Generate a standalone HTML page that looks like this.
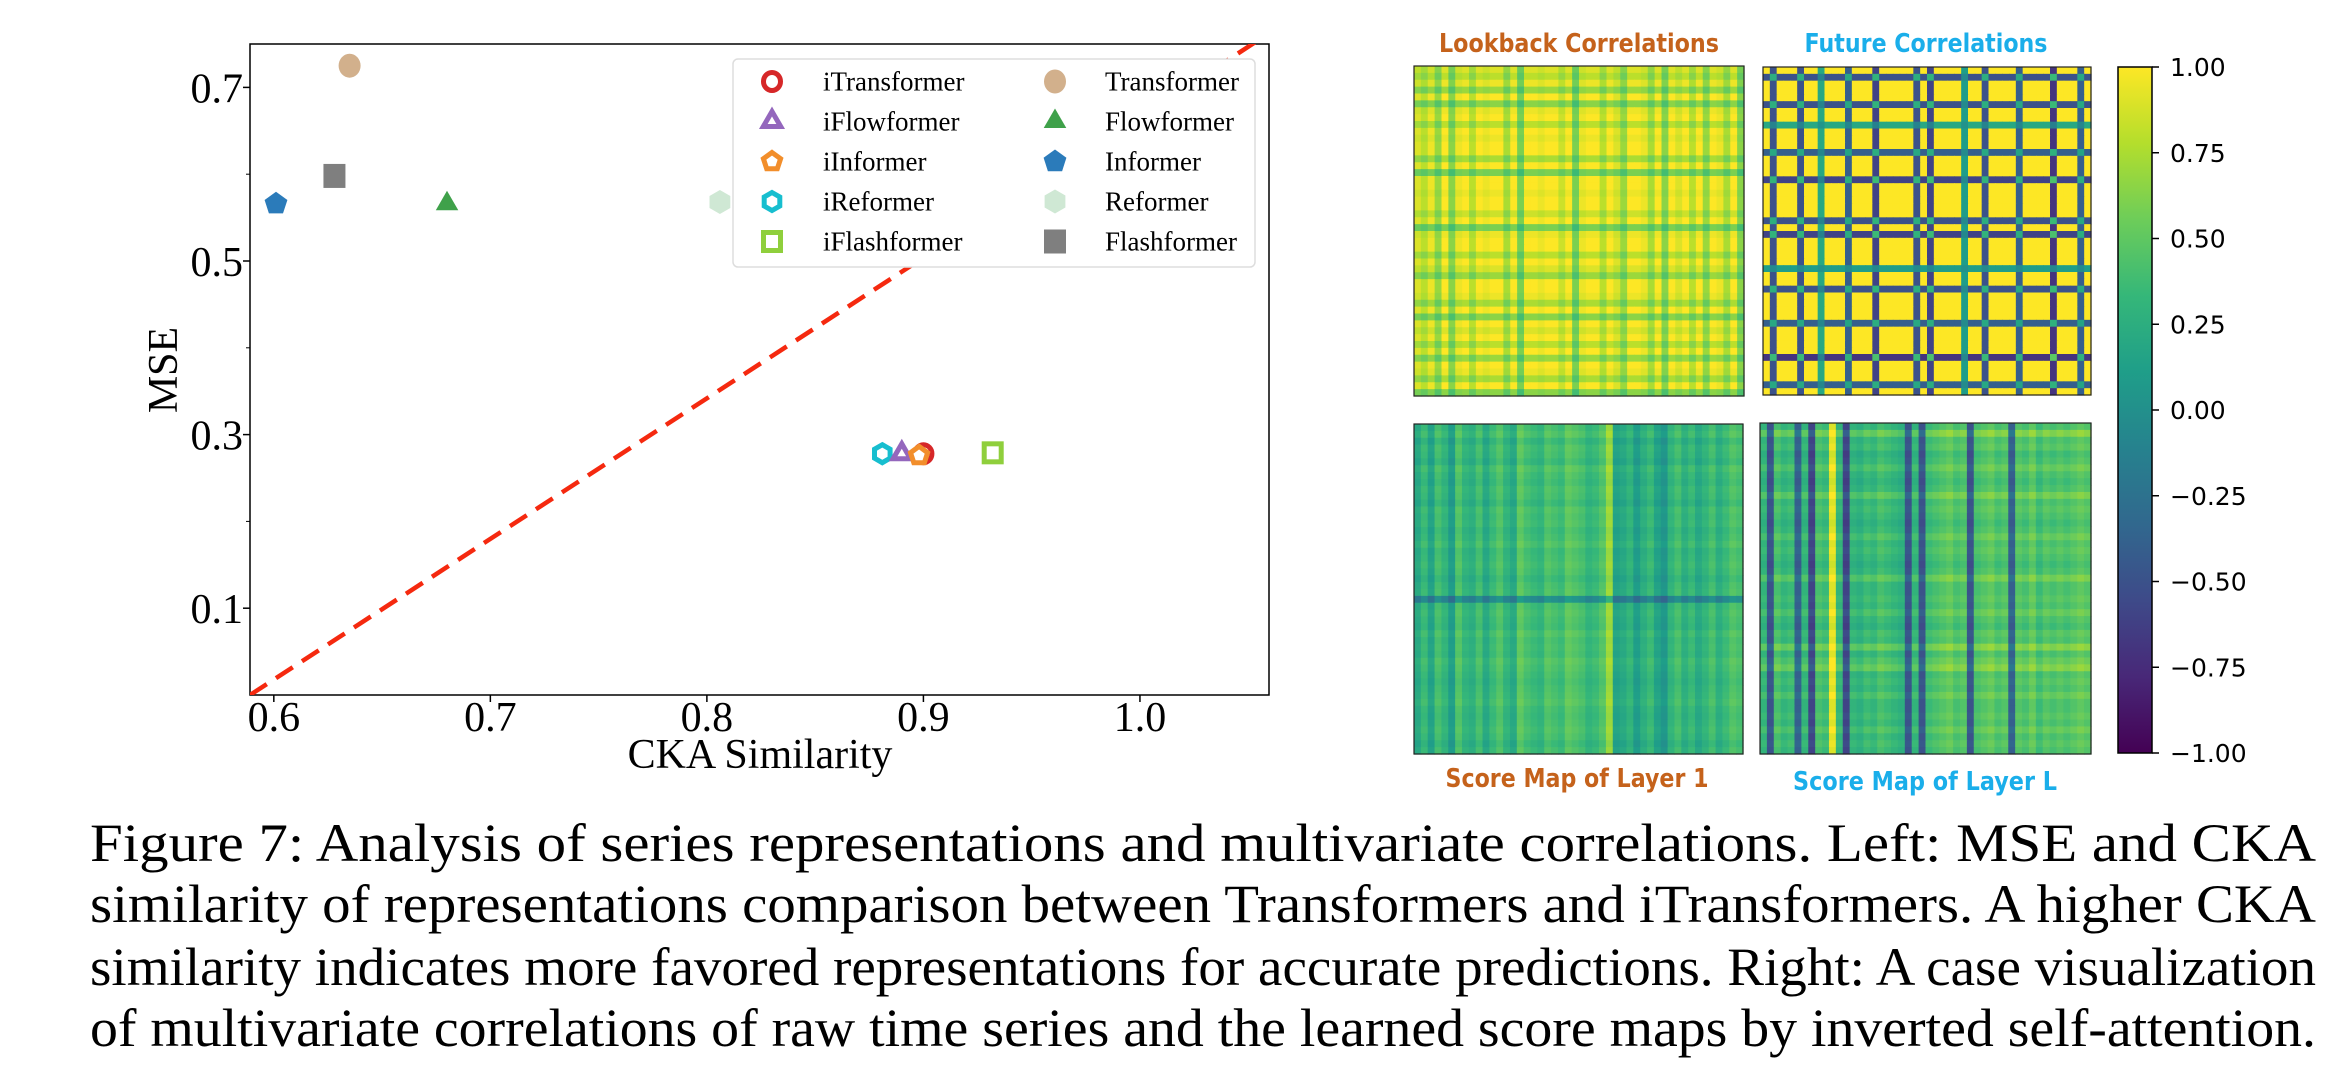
<!DOCTYPE html>
<html><head><meta charset="utf-8"><style>
html,body{margin:0;padding:0;background:#fff;}
svg{display:block;}
</style></head><body>
<svg id="fig" width="2351" height="1088" viewBox="0 0 2351 1088" xmlns="http://www.w3.org/2000/svg">
<g id="scatter"></g>
<g id="heat"></g>
<g id="caption" font-family="Liberation Serif, serif" font-size="54" fill="#000">
<text x="90" y="861" textLength="2226" lengthAdjust="spacingAndGlyphs">Figure 7: Analysis of series representations and multivariate correlations. Left: MSE and CKA</text>
<text x="90" y="922" textLength="2226" lengthAdjust="spacingAndGlyphs">similarity of representations comparison between Transformers and iTransformers. A higher CKA</text>
<text x="90" y="985" textLength="2226" lengthAdjust="spacingAndGlyphs">similarity indicates more favored representations for accurate predictions. Right: A case visualization</text>
<text x="90" y="1046" textLength="2226" lengthAdjust="spacingAndGlyphs">of multivariate correlations of raw time series and the learned score maps by inverted self-attention.</text>
</g>
</svg>
<script>
const NS="http://www.w3.org/2000/svg";
// ---- scatter data ----
const modelNames=["iTransformer","iFlowformer","iInformer","iReformer","iFlashformer","Transformer","Flowformer","Informer","Reformer","Flashformer"];
const ckaValues=[0.900,0.890,0.898,0.881,0.932,0.635,0.680,0.601,0.806,0.628];
const mseValues=[0.278,0.278,0.276,0.278,0.279,0.725,0.566,0.566,0.568,0.598];
const xTicks=[0.6,0.7,0.8,0.9,1.0];
const xTickLabels=["0.6","0.7","0.8","0.9","1.0"];
const yTicks=[0.1,0.3,0.5,0.7];
const yTickLabels=["0.1","0.3","0.5","0.7"];
const yMinorTicks=[0.2,0.4,0.6];
const diagLine=[[0.589,0],[1.06,0.763]];
// ---- heatmap data (per-index weights read approx. from picture) ----
const lookbackWeights=[0.9,0.8,0.95,0.7,1,0.65,0.95,1,0.8,1,0.95,1,1,0.75,1,0.6,1,1,0.95,1,1,0.85,1,0.6,0.95,1,1,0.8,1,0.9,0.7,1,1,0.95,0.75,1,0.65,1,0.9,1,0.8,1,0.7,1,0.95,0.75,1,0.65];
const futureWeights=[1,-0.5,1,1,1,-0.5,1,1,0.2,1,1,1,-0.4,1,1,1,-0.6,1,1,1,1,1,-0.5,1,-0.6,1,1,1,1,0.1,1,1,-0.5,1,1,1,1,-0.4,1,1,1,1,-0.7,1,1,1,-0.4,1];
const layer1Cols=[0.2,0.35,0.15,0.4,0.3,0.1,0.45,0.3,0.25,0.4,0.2,0.35,0.45,0.3,0.2,0.5,0.4,0.35,0.3,0.45,0.4,0.35,0.5,0.45,0.4,0.3,0.35,0.45,0.7,0.15,0.2,0.3,0.1,0.25,0.35,0.15,0.05,0.3,0.4,0.25,0.35,0.2,0.3,0.4,0.25,0.35,0.45,0.4];
const layer1Rows=[0,0.05,-0.05,0.02,0,-0.05,0.05,0,-0.03,0.02,0,-0.05,0.03,0,0.02,-0.03,0,0.05,-0.02,0,0.03,0,-0.05,0,0.02,-0.4,0,0.03,0,-0.02,0.05,0,0.02,0,0.06,0.03,0,-0.03,0,0.02,0.05,0,-0.02,0,0.03,0,-0.05,0];
const layerLCols=[0.3,-0.5,0.4,0.3,0.35,-0.4,0.3,-0.6,0.4,0.35,0.9,0.3,-0.6,0.3,0.25,0.35,0.3,0.4,0.35,0.3,0.25,-0.5,0.3,-0.5,0.35,0.4,0.45,0.5,0.4,0.45,-0.5,0.4,0.45,0.5,0.4,0.45,-0.4,0.45,0.4,0.5,0.35,0.45,0.4,0.45,0.4,0.45,0.5,0.45];
const layerLRows=[0,0.2,0,0.05,-0.05,0,0.1,0,-0.05,0,0.15,0,0.05,0,-0.05,0,0.1,0,0.05,0,-0.05,0,0.15,0,0,0.05,0,0.1,0,-0.05,0.05,0,0.2,0,0.1,0.2,0,0.05,0,0.1,0,0,0.05,0,0.1,0,0.05,0];
const cbarTicks=[1,0.75,0.5,0.25,0,-0.25,-0.5,-0.75,-1];
const cbarLabels=["1.00","0.75","0.50","0.25","0.00","\u22120.25","\u22120.50","\u22120.75","\u22121.00"];

function mk(tag,attrs,parent){const e=document.createElementNS(NS,tag);for(const k in attrs)e.setAttribute(k,attrs[k]);parent.appendChild(e);return e;}

const X0=250,X1=1269,Y0=44,Y1=695,xmin=0.589,xmax=1.0596,ymin=0.0,ymax=0.75;
const sx=v=>X0+(v-xmin)/(xmax-xmin)*(X1-X0);
const sy=v=>Y1-(v-ymin)/(ymax-ymin)*(Y1-Y0);
const sc=document.getElementById('scatter');
const frame=mk('rect',{x:X0,y:Y0,width:X1-X0,height:Y1-Y0,fill:'none',stroke:'#000','stroke-width':1.5},sc);


xTicks.forEach((t,i)=>{
  const l=mk('line',{x1:sx(t),x2:sx(t),y1:Y1,y2:Y1+7,stroke:'#000','stroke-width':1.5},sc);
  
  
  const tx=mk('text',{x:sx(t),y:731,'text-anchor':'middle','font-family':'Liberation Serif, serif','font-size':42},sc);
  tx.textContent=xTickLabels[i];
  
  
});
yTicks.forEach((t,i)=>{
  const l=mk('line',{x1:X0-7,x2:X0,y1:sy(t),y2:sy(t),stroke:'#000','stroke-width':1.5},sc);
  
  
  const tx=mk('text',{x:243,y:sy(t)+15,'text-anchor':'end','font-family':'Liberation Serif, serif','font-size':42},sc);
  tx.textContent=yTickLabels[i];
  
  
});
yMinorTicks.forEach(t=>{
  const l=mk('line',{x1:X0-4,x2:X0,y1:sy(t),y2:sy(t),stroke:'#000','stroke-width':1},sc);
  
  
});
const xl=mk('text',{x:760,y:768,'text-anchor':'middle','font-family':'Liberation Serif, serif','font-size':42},sc);
xl.textContent='CKA Similarity';


const yl=mk('text',{x:0,y:0,'text-anchor':'middle','font-family':'Liberation Serif, serif','font-size':42,transform:'translate(177,370) rotate(-90)'},sc);
yl.textContent='MSE';


const clipD=mk('clipPath',{id:'pc'},sc);mk('rect',{x:X0,y:Y0,width:X1-X0,height:Y1-Y0},clipD);
const dl=mk('line',{x1:sx(diagLine[0][0]),y1:sy(diagLine[0][1]),x2:sx(diagLine[1][0]),y2:sy(diagLine[1][1]),stroke:'#f5290f','stroke-width':4.5,'stroke-dasharray':'20 11','clip-path':'url(#pc)'},sc);



const colors=['#d62728','#9467bd','#f28e2b','#17becf','#8fcf3c','#d2b08c','#3fa14a','#2b7bba','#cfe8d4','#7f7f7f'];
const shapes=['circle','triangle','pentagon','hexagon','square','circle','triangle','pentagon','hexagon','square'];
function marker(shape,cx,cy,col,hollow,parent){
  let e;
  const st=hollow?{fill:'#fff',stroke:col,'stroke-width':5}:{fill:col,stroke:'none'};
  const poly=(n,rot,rr)=>{let p=[];for(let k=0;k<n;k++){const a=rot+k*2*Math.PI/n;p.push((cx+rr*Math.cos(a)).toFixed(1)+','+(cy+rr*Math.sin(a)).toFixed(1));}return p.join(' ');};
  if(shape==='circle') e=mk('ellipse',Object.assign({cx:cx,cy:cy,rx:hollow?8.5:11,ry:hollow?9:12},st),parent);
  else if(shape==='square') e=mk('rect',Object.assign({x:cx-(hollow?8.5:11),y:cy-(hollow?9:12),width:hollow?17:22,height:hollow?18:24},st),parent);
  else if(shape==='triangle') e=mk('polygon',Object.assign({points:poly(3,-Math.PI/2,hollow?10:13)},st),parent);
  else if(shape==='pentagon') e=mk('polygon',Object.assign({points:poly(5,-Math.PI/2,hollow?9:12)},st),parent);
  else e=mk('polygon',Object.assign({points:poly(6,-Math.PI/2,hollow?9:12)},st),parent);
  return e;
}
const order=[5,9,7,6,8,3,1,0,2,4];
order.forEach(i=>{
  const m=marker(shapes[i],sx(ckaValues[i]),sy(mseValues[i]),colors[i],i<5,sc);
  
  
});
const lg=mk('g',{},sc);


mk('rect',{x:733,y:59,width:522,height:208,rx:5,fill:'#fff',stroke:'#ddd','stroke-width':1.5},lg);
modelNames.forEach((n,i)=>{
  const col=i<5?0:1,row=i%5;
  const y=81.5+row*40;
  const g=mk('g',{},lg);
  
  
  marker(shapes[i],col?1055:772,y,colors[i],i<5,g);
  const t=mk('text',{x:col?1105:823,y:y+9,'font-family':'Liberation Serif, serif','font-size':27},g);
  t.textContent=n;
});

const vir=[[68,1,84],[72,40,120],[62,74,137],[49,104,142],[38,130,142],[31,158,137],[53,183,121],[109,205,89],[180,222,44],[253,231,37]];
function viridis(v){let t=(v+1)/2;t=Math.max(0,Math.min(1,t))*(vir.length-1);const i=Math.min(vir.length-2,Math.floor(t)),f=t-i;const a=vir[i],b=vir[i+1];return 'rgb('+a.map((c,k)=>Math.round(c+(b[k]-c)*f)).join(',')+')';}
const hp=document.getElementById('heat');
function heatmap(name,x,y,w,h,valFn,n){
  const g=mk('g',{},hp);
  
  
  const cw=w/n,ch=h/n;
  for(let i=0;i<n;i++)for(let j=0;j<n;j++){
    const r=mk('rect',{x:(x+j*cw).toFixed(2),y:(y+i*ch).toFixed(2),width:(cw+0.6).toFixed(2),height:(ch+0.6).toFixed(2),fill:viridis(valFn(i,j))},g);
    
    
  }
  mk('rect',{x:x,y:y,width:w,height:h,fill:'none',stroke:'#222','stroke-width':1.2},g);
}
heatmap('lookback-correlations-map',1414,66,330,330,(i,j)=>lookbackWeights[i]*lookbackWeights[j],lookbackWeights.length);
heatmap('future-correlations-map',1763,67,328,328,(i,j)=>futureWeights[i]*futureWeights[j],futureWeights.length);
heatmap('score-map-layer-1',1414,424,329,330,(i,j)=>layer1Cols[j]+layer1Rows[i],layer1Cols.length);
heatmap('score-map-layer-l',1760,423,331,331,(i,j)=>layerLCols[j]+layerLRows[i],layerLCols.length);
function title(txt,cx,y,w,col,name){
  const t=mk('text',{x:cx,y:y,'text-anchor':'middle','font-family':'DejaVu Sans, sans-serif','font-weight':'bold','font-size':26,fill:col,textLength:w,lengthAdjust:'spacingAndGlyphs'},hp);
  t.textContent=txt;
  
  
}
title('Lookback Correlations',1579,52,280,'#c5621b','lookback-title');
title('Future Correlations',1926,52,243,'#1aaeea','future-title');
title('Score Map of Layer 1',1577,787,263,'#c5621b','layer-1-title');
title('Score Map of Layer L',1925,790,264,'#1aaeea','layer-l-title');
const CB0=67,CB1=753;
const cy=v=>CB1-(v+1)/2*(CB1-CB0);
const defs=mk('defs',{},hp);
const gr=mk('linearGradient',{id:'vg',x1:0,y1:1,x2:0,y2:0},defs);
vir.forEach((c,k)=>mk('stop',{offset:(k/(vir.length-1)),'stop-color':'rgb('+c.join(',')+')'},gr));
const cb=mk('rect',{x:2118,y:CB0,width:34,height:CB1-CB0,fill:'url(#vg)',stroke:'#000','stroke-width':1.5},hp);


cbarTicks.forEach((t,i)=>{
  mk('line',{x1:2152,x2:2159,y1:cy(t),y2:cy(t),stroke:'#000','stroke-width':1.5},hp);
  const tx=mk('text',{x:2170,y:cy(t)+9,'font-family':'DejaVu Sans, sans-serif','font-size':25},hp);
  tx.textContent=cbarLabels[i];
  
  
});
</script>
</body></html>
